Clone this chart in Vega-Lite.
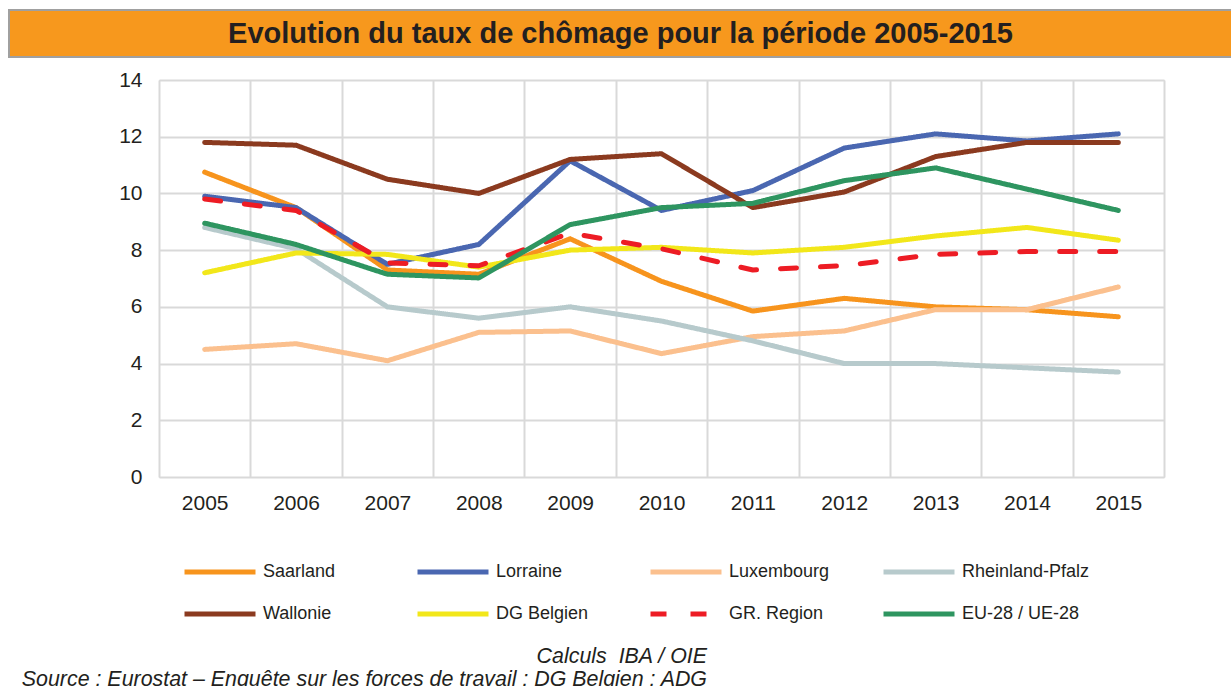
{
  "$schema": "https://vega.github.io/schema/vega-lite/v6.json",
  "padding": {"left": 8, "top": 9, "right": 0, "bottom": 0},
  "background": "white",
  "spacing": 10,
  "columns": 1,
  "title": {
    "text": ["Calculs\u00a0 IBA / OIE", "Source : Eurostat – Enquête sur les forces de travail ; DG Belgien : ADG"],
    "orient": "bottom",
    "anchor": "start",
    "align": "right",
    "dx": 699,
    "offset": 20,
    "font": "Liberation Sans",
    "fontSize": 21.4,
    "fontStyle": "italic",
    "fontWeight": "normal",
    "lineHeight": 23,
    "color": "#231F20"
  },
  "concat": [
    {
      "width": 1073,
      "height": 47,
      "view": {"stroke": null},
      "data": {"values": [{"t": "Evolution du taux de chômage pour la période 2005-2015"}]},
      "layer": [
        {
          "mark": {"type": "rect", "color": "#F7981D", "stroke": "#A0A0A0", "strokeWidth": 2},
          "encoding": {
            "x": {"datum": 0, "type": "quantitative", "scale": {"domain": [0, 1], "range": [-150, 1073]}, "axis": null},
            "x2": {"datum": 1},
            "y": {"datum": 0, "type": "quantitative", "scale": {"domain": [0, 1]}, "axis": null},
            "y2": {"datum": 1}
          }
        },
        {
          "mark": {"type": "text", "font": "Liberation Sans", "fontSize": 29, "fontWeight": "bold", "color": "#231F20", "align": "center", "baseline": "middle"},
          "encoding": {
            "text": {"field": "t"},
            "x": {"datum": 0.5, "type": "quantitative"},
            "y": {"datum": 0.5, "type": "quantitative"}
          }
        }
      ]
    },
    {
      "width": 1005,
      "height": 397,
      "data": {"values": [
        {"series": "Saarland", "year": "2005", "rate": 10.75},
        {"series": "Saarland", "year": "2006", "rate": 9.5},
        {"series": "Saarland", "year": "2007", "rate": 7.3},
        {"series": "Saarland", "year": "2008", "rate": 7.15},
        {"series": "Saarland", "year": "2009", "rate": 8.4},
        {"series": "Saarland", "year": "2010", "rate": 6.9},
        {"series": "Saarland", "year": "2011", "rate": 5.85},
        {"series": "Saarland", "year": "2012", "rate": 6.3},
        {"series": "Saarland", "year": "2013", "rate": 6.0},
        {"series": "Saarland", "year": "2014", "rate": 5.9},
        {"series": "Saarland", "year": "2015", "rate": 5.65},
        {"series": "Lorraine", "year": "2005", "rate": 9.9},
        {"series": "Lorraine", "year": "2006", "rate": 9.5},
        {"series": "Lorraine", "year": "2007", "rate": 7.5},
        {"series": "Lorraine", "year": "2008", "rate": 8.2},
        {"series": "Lorraine", "year": "2009", "rate": 11.15},
        {"series": "Lorraine", "year": "2010", "rate": 9.4},
        {"series": "Lorraine", "year": "2011", "rate": 10.1},
        {"series": "Lorraine", "year": "2012", "rate": 11.6},
        {"series": "Lorraine", "year": "2013", "rate": 12.1},
        {"series": "Lorraine", "year": "2014", "rate": 11.85},
        {"series": "Lorraine", "year": "2015", "rate": 12.1},
        {"series": "Luxembourg", "year": "2005", "rate": 4.5},
        {"series": "Luxembourg", "year": "2006", "rate": 4.7},
        {"series": "Luxembourg", "year": "2007", "rate": 4.1},
        {"series": "Luxembourg", "year": "2008", "rate": 5.1},
        {"series": "Luxembourg", "year": "2009", "rate": 5.15},
        {"series": "Luxembourg", "year": "2010", "rate": 4.35},
        {"series": "Luxembourg", "year": "2011", "rate": 4.95},
        {"series": "Luxembourg", "year": "2012", "rate": 5.15},
        {"series": "Luxembourg", "year": "2013", "rate": 5.9},
        {"series": "Luxembourg", "year": "2014", "rate": 5.9},
        {"series": "Luxembourg", "year": "2015", "rate": 6.7},
        {"series": "Rheinland-Pfalz", "year": "2005", "rate": 8.8},
        {"series": "Rheinland-Pfalz", "year": "2006", "rate": 8.05},
        {"series": "Rheinland-Pfalz", "year": "2007", "rate": 6.0},
        {"series": "Rheinland-Pfalz", "year": "2008", "rate": 5.6},
        {"series": "Rheinland-Pfalz", "year": "2009", "rate": 6.0},
        {"series": "Rheinland-Pfalz", "year": "2010", "rate": 5.5},
        {"series": "Rheinland-Pfalz", "year": "2011", "rate": 4.8},
        {"series": "Rheinland-Pfalz", "year": "2012", "rate": 4.0},
        {"series": "Rheinland-Pfalz", "year": "2013", "rate": 4.0},
        {"series": "Rheinland-Pfalz", "year": "2014", "rate": 3.85},
        {"series": "Rheinland-Pfalz", "year": "2015", "rate": 3.7},
        {"series": "Wallonie", "year": "2005", "rate": 11.8},
        {"series": "Wallonie", "year": "2006", "rate": 11.7},
        {"series": "Wallonie", "year": "2007", "rate": 10.5},
        {"series": "Wallonie", "year": "2008", "rate": 10.0},
        {"series": "Wallonie", "year": "2009", "rate": 11.2},
        {"series": "Wallonie", "year": "2010", "rate": 11.4},
        {"series": "Wallonie", "year": "2011", "rate": 9.5},
        {"series": "Wallonie", "year": "2012", "rate": 10.05},
        {"series": "Wallonie", "year": "2013", "rate": 11.3},
        {"series": "Wallonie", "year": "2014", "rate": 11.8},
        {"series": "Wallonie", "year": "2015", "rate": 11.8},
        {"series": "DG Belgien", "year": "2005", "rate": 7.2},
        {"series": "DG Belgien", "year": "2006", "rate": 7.9},
        {"series": "DG Belgien", "year": "2007", "rate": 7.85},
        {"series": "DG Belgien", "year": "2008", "rate": 7.4},
        {"series": "DG Belgien", "year": "2009", "rate": 8.0},
        {"series": "DG Belgien", "year": "2010", "rate": 8.1},
        {"series": "DG Belgien", "year": "2011", "rate": 7.9},
        {"series": "DG Belgien", "year": "2012", "rate": 8.1},
        {"series": "DG Belgien", "year": "2013", "rate": 8.5},
        {"series": "DG Belgien", "year": "2014", "rate": 8.8},
        {"series": "DG Belgien", "year": "2015", "rate": 8.35},
        {"series": "GR. Region", "year": "2005", "rate": 9.8},
        {"series": "GR. Region", "year": "2006", "rate": 9.4},
        {"series": "GR. Region", "year": "2007", "rate": 7.55},
        {"series": "GR. Region", "year": "2008", "rate": 7.45},
        {"series": "GR. Region", "year": "2009", "rate": 8.6},
        {"series": "GR. Region", "year": "2010", "rate": 8.05},
        {"series": "GR. Region", "year": "2011", "rate": 7.3},
        {"series": "GR. Region", "year": "2012", "rate": 7.45},
        {"series": "GR. Region", "year": "2013", "rate": 7.85},
        {"series": "GR. Region", "year": "2014", "rate": 7.95},
        {"series": "GR. Region", "year": "2015", "rate": 7.95},
        {"series": "EU-28 / UE-28", "year": "2005", "rate": 8.95},
        {"series": "EU-28 / UE-28", "year": "2006", "rate": 8.2},
        {"series": "EU-28 / UE-28", "year": "2007", "rate": 7.15},
        {"series": "EU-28 / UE-28", "year": "2008", "rate": 7.02},
        {"series": "EU-28 / UE-28", "year": "2009", "rate": 8.9},
        {"series": "EU-28 / UE-28", "year": "2010", "rate": 9.5},
        {"series": "EU-28 / UE-28", "year": "2011", "rate": 9.65},
        {"series": "EU-28 / UE-28", "year": "2012", "rate": 10.45},
        {"series": "EU-28 / UE-28", "year": "2013", "rate": 10.9},
        {"series": "EU-28 / UE-28", "year": "2014", "rate": 10.15},
        {"series": "EU-28 / UE-28", "year": "2015", "rate": 9.4}
      ]},
      "mark": {"type": "line", "strokeCap": "round", "strokeJoin": "round"},
      "encoding": {
        "x": {
          "field": "year", "type": "ordinal",
          "scale": {"type": "band", "paddingInner": 0, "paddingOuter": 0},
          "bandPosition": 0.5,
          "axis": {"title": null, "tickBand": "extent", "grid": true, "gridColor": "#D9D9D9", "gridWidth": 2, "ticks": false, "domain": false, "labelAngle": 0, "labelFontSize": 21, "labelFont": "Liberation Sans", "labelColor": "#231F20", "labelPadding": 15}
        },
        "y": {
          "field": "rate", "type": "quantitative",
          "scale": {"domain": [0, 14], "nice": false},
          "axis": {"title": null, "values": [0, 2, 4, 6, 8, 10, 12, 14], "grid": true, "gridColor": "#D9D9D9", "gridWidth": 2, "ticks": false, "domain": false, "labelFontSize": 21, "labelFont": "Liberation Sans", "labelColor": "#231F20", "labelPadding": 17, "minExtent": 150, "maxExtent": 150}
        },
        "color": {
          "field": "series", "type": "nominal",
          "scale": {
            "domain": ["Saarland", "Lorraine", "Luxembourg", "Rheinland-Pfalz", "Wallonie", "DG Belgien", "GR. Region", "EU-28 / UE-28"],
            "range": ["#F7941D", "#4A67B1", "#FBC08E", "#B7CACC", "#8B3A1F", "#F2E71A", "#ED1C24", "#2E9560"]
          },
          "legend": {
            "title": null, "orient": "none", "legendX": 23, "legendY": 550,
            "columns": 4, "direction": "horizontal", "gridAlign": "all",
            "symbolType": "stroke", "symbolSize": 5041, "clipHeight": 24,
            "labelFontSize": 18, "labelFont": "Liberation Sans", "labelColor": "#231F20",
            "labelOffset": 5, "columnPadding": 24, "rowPadding": 18, "labelLimit": 300
          }
        },
        "strokeDash": {
          "field": "series", "type": "nominal",
          "scale": {
            "domain": ["Saarland", "Lorraine", "Luxembourg", "Rheinland-Pfalz", "Wallonie", "DG Belgien", "GR. Region", "EU-28 / UE-28"],
            "range": [[1, 0], [1, 0], [1, 0], [1, 0], [1, 0], [1, 0], [16, 24], [1, 0]]
          }
        },
        "strokeWidth": {
          "field": "series", "type": "nominal",
          "scale": {
            "domain": ["Saarland", "Lorraine", "Luxembourg", "Rheinland-Pfalz", "Wallonie", "DG Belgien", "GR. Region", "EU-28 / UE-28"],
            "range": [5, 5, 5, 5, 5, 5, 5.5, 4]
          }
        }
      }
    }
  ]
}
